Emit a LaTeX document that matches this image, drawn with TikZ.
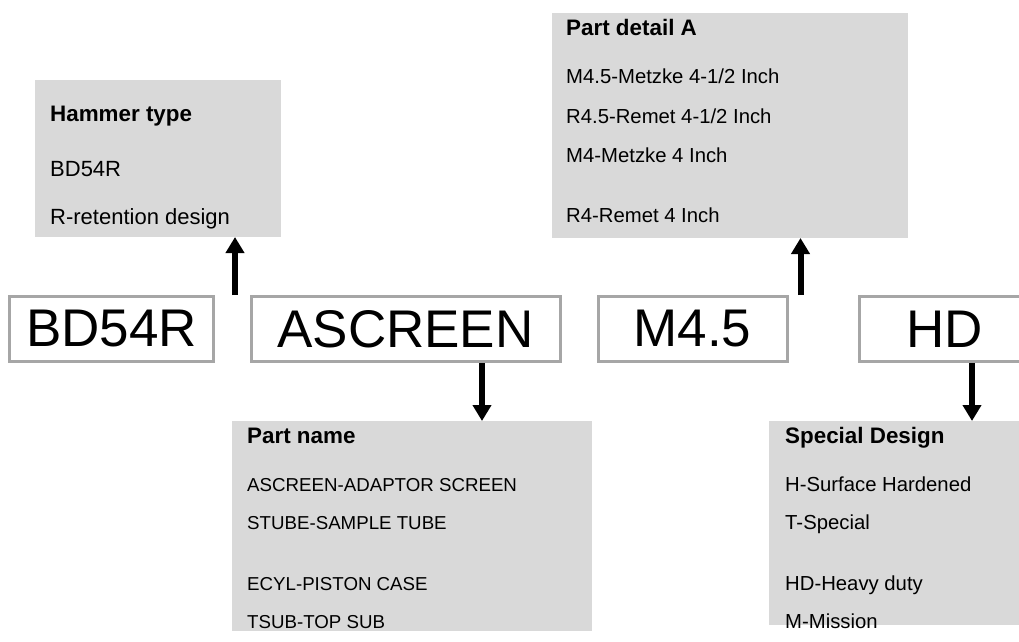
\documentclass[tikz,border=0pt]{standalone}
\usepackage{fontspec}
\setmainfont{Liberation Sans}
\usetikzlibrary{arrows.meta}
\definecolor{panelgrey}{HTML}{D9D9D9}
\definecolor{framegrey}{HTML}{A6A6A6}
\tikzset{
  panel/.style={fill=panelgrey, draw=none, inner sep=0pt, outer sep=0pt, anchor=north west},
  codebox/.style={draw=framegrey, line width=3pt, fill=white, inner sep=0pt,
    font=\fontsize{53}{60}\selectfont},
  head/.style={anchor=base west, inner sep=0pt, font=\fontsize{22.4}{26}\selectfont\bfseries},
  item/.style={anchor=base west, inner sep=0pt, font=\fontsize{20.3}{24}\selectfont},
  itembig/.style={item, font=\fontsize{22}{26}\selectfont},
  itemcaps/.style={item, font=\fontsize{18.7}{22}\selectfont},
  link/.style={line width=6pt, -{Triangle[width=18pt,length=16pt]}},
}
\begin{document}
\begin{tikzpicture}[x=1pt,y=-1pt]
\useasboundingbox (0,0) rectangle (1019,641);

% grey panels
\node[panel, minimum width=246pt, minimum height=157pt] (hammer) at (35,80) {};
\node[panel, minimum width=356pt, minimum height=225pt] (detail) at (552,13) {};
\node[panel, minimum width=360pt, minimum height=210pt] (pname) at (232,421) {};
\node[panel, minimum width=255pt, minimum height=204pt] (special) at (769,421) {};

% code boxes
\node[codebox, minimum width=204pt, minimum height=65pt] (bd) at (111.5,329) {BD54R};
\node[codebox, minimum width=309pt, minimum height=65pt] (asc) at (405.5,329) {ASCREEN};
\node[codebox, minimum width=189pt, minimum height=65pt] (m45) at (692.5,329) {M4.5};
\node[codebox, minimum width=171pt, minimum height=65pt] (hd) at (944.5,329) {HD};

% panel texts
\node[head] (h0) at (50,121) {Hammer type};
\node[itembig] (h1) at (50,176) {BD54R};
\node[itembig] (h2) at (50,224) {R-retention design};

\node[head] (a0) at (566,35) {Part detail A};
\node[item] (a1) at (566,83) {M4.5-Metzke 4-1/2 Inch};
\node[item] (a2) at (566,123) {R4.5-Remet 4-1/2 Inch};
\node[item] (a3) at (566,162) {M4-Metzke 4 Inch};
\node[item] (a4) at (566,222) {R4-Remet 4 Inch};

\node[head] (p0) at (247,443) {Part name};
\node[itemcaps] (p1) at (247,491) {ASCREEN-ADAPTOR SCREEN};
\node[itemcaps] (p2) at (247,529) {STUBE-SAMPLE TUBE};
\node[itemcaps] (p3) at (247,590) {ECYL-PISTON CASE};
\node[itemcaps] (p4) at (247,628) {TSUB-TOP SUB};

\node[head] (s0) at (785,443) {Special Design};
\node[item] (s1) at (785,491) {H-Surface Hardened};
\node[item] (s2) at (785,529) {T-Special};
\node[item] (s3) at (785,590) {HD-Heavy duty};
\node[item] (s4) at (785,628) {M-Mission};

% connectors
\coordinate (u1) at (235,295);
\coordinate (u2) at (800.5,295);
\coordinate (d1) at (482,363);
\coordinate (d2) at (972,363);
\draw[link] (u1) -- (hammer.south -| u1);
\draw[link] (u2) -- (detail.south -| u2);
\draw[link] (asc.south -| d1) -- (pname.north -| d1);
\draw[link] (hd.south -| d2) -- (special.north -| d2);
\end{tikzpicture}
\end{document}
